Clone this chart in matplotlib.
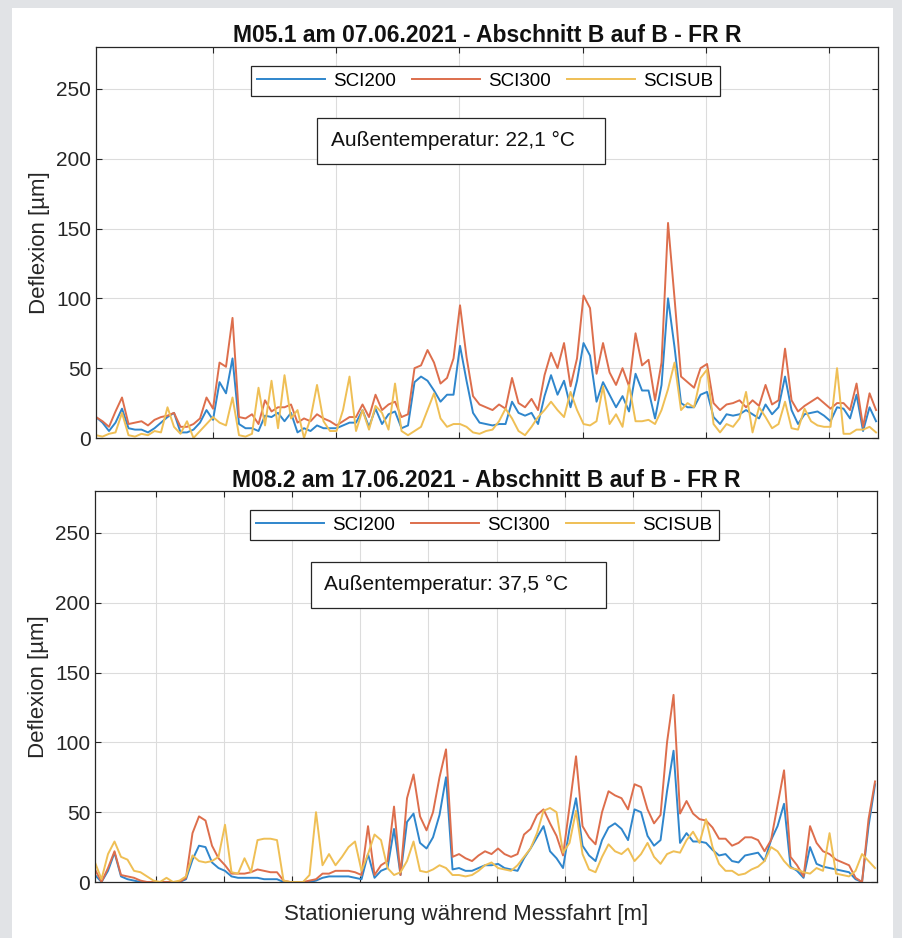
import numpy as np
import matplotlib
matplotlib.use("Agg")
import matplotlib.pyplot as plt
from matplotlib.patches import Rectangle

plt.rcParams['font.family'] = ['Liberation Sans', 'DejaVu Sans']

# ---------------- M05.1 (oben) ----------------
sci200_a = [15, 11, 5, 11, 21, 7, 6, 6, 4, 7, 11, 15, 18, 4, 4, 6, 11, 20, 13, 40,
            32, 57, 10, 7, 7, 5, 16, 15, 18, 12, 18, 4, 7, 5, 9, 7, 7, 7, 9, 11,
            11, 20, 8, 21, 10, 17, 19, 7, 9, 40, 44, 41, 34, 26, 31, 31, 66, 41, 18, 11,
            10, 9, 10, 10, 26, 18, 16, 18, 10, 30, 45, 31, 41, 22, 41, 68, 59, 26, 40, 31,
            22, 30, 19, 46, 34, 34, 14, 38, 100, 65, 25, 22, 22, 31, 33, 15, 10, 17, 16, 17,
            20, 17, 14, 24, 17, 22, 44, 20, 10, 17, 18, 19, 16, 12, 22, 21, 14, 31, 5, 22, 12]
sci300_a = [15, 12, 8, 19, 29, 10, 11, 12, 9, 13, 15, 16, 18, 8, 8, 10, 14, 29, 21, 54,
            51, 86, 15, 14, 17, 10, 27, 19, 22, 22, 24, 11, 14, 12, 17, 14, 12, 9, 12, 15,
            15, 24, 15, 31, 20, 24, 26, 15, 17, 50, 52, 63, 54, 39, 43, 57, 95, 58, 30, 24,
            22, 20, 24, 21, 43, 25, 22, 28, 20, 45, 61, 50, 68, 37, 57, 102, 93, 46, 68, 47,
            38, 50, 37, 75, 52, 56, 27, 54, 154, 100, 44, 40, 36, 50, 53, 25, 20, 24, 25, 27,
            22, 27, 23, 38, 24, 27, 64, 27, 19, 23, 26, 29, 25, 21, 25, 25, 20, 39, 8, 32, 20]
scisub_a = [2, 1, 3, 4, 18, 2, 1, 3, 2, 5, 4, 22, 8, 3, 12, 0, 5, 10, 15, 11,
            9, 29, 2, 1, 3, 36, 9, 41, 7, 45, 14, 20, 0, 14, 38, 12, 5, 5, 20, 44,
            5, 20, 6, 23, 18, 6, 39, 5, 2, 5, 8, 20, 32, 14, 8, 10, 10, 8, 4, 3,
            5, 6, 12, 21, 14, 5, 2, 8, 15, 20, 26, 20, 15, 33, 20, 10, 9, 12, 37, 10,
            17, 8, 38, 12, 12, 13, 10, 20, 35, 54, 20, 25, 22, 43, 49, 10, 4, 10, 8, 14,
            33, 4, 22, 15, 7, 10, 26, 7, 6, 21, 12, 9, 8, 8, 50, 3, 3, 6, 6, 8, 4]

# ---------------- M08.2 (unten) ----------------
sci200_b = [5, 0, 8, 21, 4, 2, 1, 0, 0, 0, 0, 0, 0, 0, 2, 16, 26, 25, 14, 10,
            8, 4, 3, 3, 3, 3, 2, 2, 2, 0, 0, 0, 0, 0, 1, 3, 4, 4, 4, 4,
            3, 2, 20, 3, 8, 10, 38, 5, 43, 49, 28, 24, 32, 48, 75, 9, 10, 8, 8, 10,
            12, 12, 13, 10, 9, 8, 17, 24, 32, 40, 22, 17, 10, 38, 60, 26, 19, 15, 30, 39,
            42, 38, 30, 52, 50, 33, 26, 30, 65, 94, 28, 35, 29, 29, 28, 23, 19, 20, 15, 14,
            19, 20, 21, 15, 30, 40, 56, 11, 8, 3, 25, 13, 11, 10, 9, 8, 7, 2, 0, 40, 70]
sci300_b = [9, 0, 10, 22, 5, 4, 3, 1, 0, 0, 0, 0, 0, 0, 3, 35, 47, 44, 26, 17,
            12, 6, 6, 6, 7, 9, 8, 7, 7, 1, 0, 0, 0, 1, 2, 6, 6, 8, 8, 8,
            7, 5, 40, 5, 12, 15, 54, 5, 60, 77, 47, 37, 50, 75, 95, 18, 20, 17, 15, 19,
            22, 20, 24, 20, 18, 20, 34, 38, 48, 52, 42, 33, 19, 54, 90, 40, 32, 27, 50, 65,
            62, 60, 52, 70, 68, 52, 42, 48, 100, 134, 49, 58, 49, 45, 44, 39, 31, 31, 26, 28,
            32, 32, 30, 22, 30, 55, 80, 18, 12, 4, 40, 28, 22, 20, 16, 14, 12, 3, 0, 45, 72]
scisub_b = [14, 2, 20, 29, 18, 16, 8, 7, 4, 1, 0, 3, 0, 1, 4, 19, 15, 14, 15, 18,
            41, 7, 6, 17, 7, 30, 31, 31, 30, 1, 0, 0, 0, 5, 50, 12, 20, 12, 18, 25,
            29, 8, 20, 34, 30, 10, 5, 7, 15, 29, 8, 7, 9, 12, 10, 5, 5, 4, 5, 8,
            12, 14, 10, 9, 8, 12, 18, 24, 35, 51, 53, 50, 21, 28, 51, 20, 9, 7, 18, 27,
            22, 20, 24, 15, 20, 28, 18, 13, 20, 22, 21, 30, 36, 28, 45, 25, 13, 8, 8, 5,
            6, 9, 11, 15, 25, 22, 15, 10, 9, 7, 6, 10, 8, 35, 6, 5, 4, 8, 20, 15, 10]

titles = ["M05.1 am 07.06.2021 - Abschnitt B auf B - FR R",
          "M08.2 am 17.06.2021 - Abschnitt B auf B - FR R"]
temps = ["Außentemperatur: 22,1 °C", "Außentemperatur: 37,5 °C"]
labels = ["SCI200", "SCI300", "SCISUB"]
colors = ["#2f86cc", "#dd6e4c", "#efbf55"]
yticks = [0, 50, 100, 150, 200, 250]

# tick positions along the run (measurement index)
xticks_a = np.arange(18.0, 120, 18.95)
xticks_b = np.arange(9.38, 120, 10.48)

axcol = "#262626"

fig = plt.figure(figsize=(9.03, 9.38), dpi=100)
fig.patch.set_facecolor("#e1e3e6")
fig.add_artist(Rectangle((12 / 903, 0), 881 / 903, 1 - 8 / 938,
                         transform=fig.transFigure, facecolor="white",
                         edgecolor="none", zorder=-10))

ax1 = fig.add_axes([96 / 903, 1 - 438 / 938, 782 / 903, 391 / 938])
ax2 = fig.add_axes([95 / 903, 1 - 882 / 938, 782 / 903, 391 / 938])

sets = [(ax1, [sci200_a, sci300_a, scisub_a], xticks_a),
        (ax2, [sci200_b, sci300_b, scisub_b], xticks_b)]

for k, (ax, series, xt) in enumerate(sets):
    x = np.arange(len(series[0]))
    for s, lab, c in zip(series, labels, colors):
        ax.plot(x, s, color=c, lw=1.4, label=lab)
    ax.set_xlim(0, 120.3)
    ax.set_ylim(0, 280)
    ax.set_yticks(yticks)
    ax.set_xticks(xt)
    ax.set_xticklabels([])
    ax.grid(True, color="#dcdcdc", lw=0.8)
    ax.set_axisbelow(True)
    ax.tick_params(direction="in", length=4, width=0.8, colors=axcol,
                   labelsize=15, top=True, right=True)
    for sp in ax.spines.values():
        sp.set_color(axcol)
        sp.set_linewidth(0.9)
    ax.set_title(titles[k], fontsize=16.5, fontweight="bold", color="#111111", pad=3)
    ax.set_ylabel("Deflexion [µm]", fontsize=16, color=axcol, labelpad=4)

    leg = ax.legend(loc="center", ncol=3, mode="expand",
                    bbox_to_anchor=(0.198, 0.872, 0.600, 0.082),
                    fontsize=13.5, handlelength=3.6, handletextpad=0.45,
                    fancybox=False, framealpha=1, edgecolor=axcol,
                    borderaxespad=0, borderpad=0.35)
    leg.get_frame().set_linewidth(0.9)

    bx = 0.283 if k == 0 else 0.276
    ax.add_patch(Rectangle((bx, 0.701), 0.368 if k == 0 else 0.377, 0.117,
                           transform=ax.transAxes, facecolor="white",
                           edgecolor=axcol, lw=0.9, zorder=5))
    ax.text(bx + 0.017, 0.760, temps[k], transform=ax.transAxes,
            fontsize=15, color="#111111", va="center", ha="left", zorder=6)

ax2.set_xlabel("Stationierung während Messfahrt [m]", fontsize=16, color=axcol)
ax2.xaxis.set_label_coords(0.474, -0.056)

fig.savefig("out.png", dpi=100, facecolor=fig.get_facecolor())
